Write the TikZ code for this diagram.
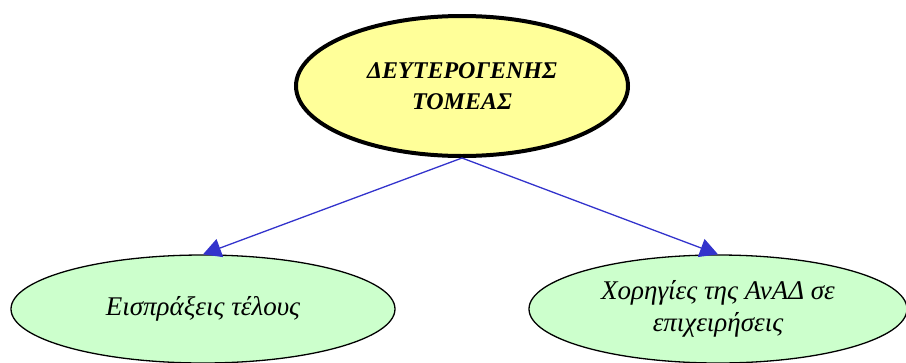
\documentclass[tikz,border=0pt]{standalone}
\usepackage{fontspec}
\setmainfont{Liberation Serif}
\usepackage{xcolor}
\usetikzlibrary{arrows.meta,shapes.geometric}
\definecolor{topfill}{HTML}{FFFF99}
\definecolor{leaffill}{HTML}{CCFFCC}
\definecolor{arrblue}{HTML}{3333CC}
\begin{document}
\begin{tikzpicture}[
  x=1pt, y=-1pt,
  root/.style={ellipse, draw, line width=4pt, fill=topfill, inner sep=0pt, minimum width=332pt, minimum height=140pt, align=center, font=\fontsize{24}{31}\selectfont\bfseries\itshape},
  leaf/.style={ellipse, draw, line width=1.3pt, fill=leaffill, inner sep=0pt, minimum width=384pt, minimum height=108pt, align=center, font=\fontsize{27}{32}\selectfont\itshape},
  arr/.style={-{Triangle[length=18pt, width=19pt]}, line width=1.3pt, arrblue}]
\useasboundingbox (0,0) rectangle (906,362);
\node[root] (sector) at (462,86) {ΔΕΥΤΕΡΟΓΕΝΗΣ\\ΤΟΜΕΑΣ};
\node[leaf] (fees) at (203,309) {Εισπράξεις τέλους};
\node[leaf, minimum width=378pt] (grants) at (718,309) {Χορηγίες της ΑνΑΔ σε\\επιχειρήσεις};
\foreach \b in {fees,grants} \draw[arr] (sector.south) -- (\b.north);
\end{tikzpicture}
\end{document}
